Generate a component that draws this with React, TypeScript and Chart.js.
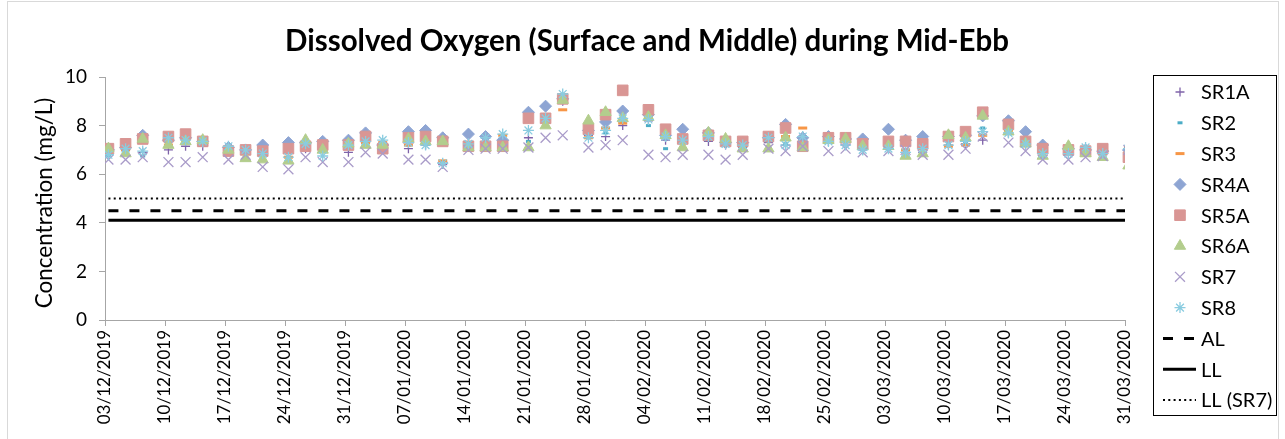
import React, { useEffect, useRef } from 'react';
import { Chart, registerables } from 'chart.js';
import { drawPoint } from 'chart.js/helpers';

Chart.register(...registerables);

const TITLE = 'Dissolved Oxygen (Surface and Middle) during Mid-Ebb';
const Y_TITLE = 'Concentration (mg/L)';

const tickLabels = [
  '03/12/2019', '10/12/2019', '17/12/2019', '24/12/2019', '31/12/2019',
  '07/01/2020', '14/01/2020', '21/01/2020', '28/01/2020', '04/02/2020',
  '11/02/2020', '18/02/2020', '25/02/2020', '03/03/2020', '10/03/2020',
  '17/03/2020', '24/03/2020', '31/03/2020',
];

const sampleDates = [
  '03/12/2019', '05/12/2019', '07/12/2019', '10/12/2019', '12/12/2019', '14/12/2019', '17/12/2019',
  '19/12/2019', '21/12/2019', '24/12/2019', '26/12/2019', '28/12/2019', '31/12/2019',
  '02/01/2020', '04/01/2020', '07/01/2020', '09/01/2020', '11/01/2020', '14/01/2020', '16/01/2020',
  '18/01/2020', '21/01/2020', '23/01/2020', '25/01/2020', '28/01/2020', '30/01/2020',
  '01/02/2020', '04/02/2020', '06/02/2020', '08/02/2020', '11/02/2020', '13/02/2020', '15/02/2020',
  '18/02/2020', '20/02/2020', '22/02/2020', '25/02/2020', '27/02/2020', '29/02/2020',
  '03/03/2020', '05/03/2020', '07/03/2020', '10/03/2020', '12/03/2020', '14/03/2020', '17/03/2020',
  '19/03/2020', '21/03/2020', '24/03/2020', '26/03/2020', '28/03/2020', '31/03/2020',
];

// fraction of the day at which sampling took place
const SAMPLE_TIME = 0.4;

const SR1A = [6.9, 7.0, 6.9, 7.0, 7.15, 7.15, 6.95, 6.85, 6.75, 6.7, 7.05, 7.05, 6.9,
  7.3, 7.1, 7.05, 7.2, 6.4, 7.1, 7.2, 7.2, 7.5, 8.3, 9.0, 7.6, 7.55,
  8.0, 8.2, 7.4, 7.35, 7.35, 7.2, 7.1, 7.3, 7.2, 7.4, 7.35, 7.2, 7.0,
  7.1, 6.9, 6.9, 7.2, 7.25, 7.4, 7.7, 7.2, 6.9, 6.85, 6.9, 6.8, 7.0];
const SR2 = [6.75, 6.9, 6.75, 7.2, 7.35, 7.3, 7.05, 6.9, 6.8, 6.65, 7.1, 7.0, 7.15,
  7.3, 7.15, 7.2, 7.25, 6.45, 7.3, 7.25, 7.3, 7.35, 8.3, 9.1, 7.6, 7.7,
  8.15, 8.0, 7.05, 7.3, 7.5, 7.25, 7.15, 7.35, 7.25, 7.5, 7.4, 7.3, 7.1,
  7.2, 6.9, 7.0, 7.25, 7.3, 7.9, 7.75, 7.3, 6.95, 6.9, 7.0, 6.85, 7.05];
const SR3 = [6.9, 7.0, 7.3, 7.2, 7.4, 7.3, 7.0, 6.9, 6.8, 6.7, 7.15, 6.95, 7.2,
  7.3, 7.3, 7.2, 7.3, 6.55, 7.2, 7.3, 7.6, 8.3, 8.35, 8.65, 7.5, 7.9,
  8.1, 8.3, 7.6, 7.4, 7.55, 7.3, 7.2, 7.4, 7.55, 7.9, 7.45, 7.35, 7.15,
  7.25, 7.0, 7.05, 7.15, 7.2, 7.6, 7.8, 7.4, 7.0, 6.85, 6.95, 6.85, 7.1];
const SR4A = [7.0, 7.1, 7.6, 7.4, 7.5, 7.35, 7.1, 7.0, 7.2, 7.3, 7.3, 7.35, 7.4,
  7.7, 7.2, 7.75, 7.8, 7.5, 7.65, 7.55, 7.4, 8.55, 8.8, 9.1, 7.8, 8.15,
  8.6, 8.45, 7.6, 7.85, 7.7, 7.3, 7.3, 7.5, 8.05, 7.5, 7.55, 7.45, 7.45,
  7.85, 7.4, 7.55, 7.55, 7.6, 8.4, 8.2, 7.75, 7.2, 7.05, 7.0, 6.95, 7.0];
const SR5A = [7.05, 7.25, 7.45, 7.55, 7.65, 7.35, 6.95, 7.0, 6.95, 7.05, 7.15, 7.2, 7.2,
  7.55, 7.05, 7.5, 7.55, 7.35, 7.15, 7.15, 7.15, 8.3, 8.3, 9.1, 7.85, 8.45,
  9.45, 8.65, 7.85, 7.45, 7.6, 7.35, 7.35, 7.55, 7.9, 7.15, 7.5, 7.5, 7.25,
  7.35, 7.35, 7.25, 7.55, 7.75, 8.55, 8.05, 7.35, 7.05, 7.0, 6.95, 7.05, 6.7];
const SR6A = [7.05, 6.85, 7.45, 7.2, 7.35, 7.4, 7.0, 6.65, 6.6, 6.55, 7.4, 7.0, 7.25,
  7.2, 7.2, 7.45, 7.35, 7.35, 7.1, 7.1, 7.1, 7.1, 8.0, 9.05, 8.2, 8.55,
  8.3, 8.35, 7.6, 7.1, 7.7, 7.45, 7.05, 7.05, 7.5, 7.1, 7.4, 7.45, 7.15,
  7.15, 6.75, 6.85, 7.6, 7.5, 8.4, 7.75, 7.25, 6.75, 7.15, 6.85, 6.7, 6.35];
const SR7 = [6.6, 6.6, 6.7, 6.5, 6.5, 6.7, 6.6, 6.8, 6.3, 6.2, 6.7, 6.5, 6.5,
  6.9, 6.85, 6.6, 6.6, 6.3, 7.0, 7.05, 7.05, 7.1, 7.5, 7.6, 7.1, 7.2,
  7.4, 6.8, 6.7, 6.8, 6.8, 6.6, 6.8, 7.05, 6.95, 7.15, 6.95, 7.05, 6.9,
  6.95, 7.0, 6.8, 6.8, 7.05, 7.55, 7.3, 6.95, 6.6, 6.6, 6.7, 6.75, 7.0];
const SR8 = [6.8, 7.05, 6.95, 7.5, 7.4, 7.35, 7.15, 7.0, 6.85, 6.7, 7.25, 6.75, 7.2,
  7.35, 7.4, 7.3, 7.2, 6.45, 7.25, 7.5, 7.65, 7.8, 8.3, 9.3, 7.5, 7.8,
  8.3, 8.25, 7.55, 7.4, 7.55, 7.25, 7.2, 7.5, 7.2, 7.55, 7.35, 7.2, 7.0,
  7.05, 6.9, 7.05, 7.2, 7.35, 7.75, 7.7, 7.25, 6.85, 6.85, 7.1, 6.85, 7.05];

const AL = 4.5;
const LL = 4.1;
const LL_SR7 = 5;

const FONT = 'Lato, "Open Sans", sans-serif';

const parseDay = (s: string) => {
  const [d, m, y] = s.split('/').map(Number);
  return Date.UTC(y, m - 1, d) / 86400000;
};
const DAY0 = parseDay(tickLabels[0]);
const dayIndex = (s: string) => parseDay(s) - DAY0;
const xs = sampleDates.map((d) => dayIndex(d) + SAMPLE_TIME);

type MarkerSpec = {
  label: string;
  values: number[];
  color: string;
  pointStyle: string;
  radius: number;
  borderWidth: number;
};

const markers: MarkerSpec[] = [
  { label: 'SR1A', values: SR1A, color: '#7F63A9', pointStyle: 'cross', radius: 4.5, borderWidth: 1.3 },
  { label: 'SR2', values: SR2, color: '#4BACC6', pointStyle: 'line', radius: 2.5, borderWidth: 3 },
  { label: 'SR3', values: SR3, color: '#F79646', pointStyle: 'line', radius: 4.5, borderWidth: 3 },
  { label: 'SR4A', values: SR4A, color: '#8EA5D3', pointStyle: 'rectRot', radius: 6, borderWidth: 1 },
  { label: 'SR5A', values: SR5A, color: '#D99694', pointStyle: 'rect', radius: 7.5, borderWidth: 1 },
  { label: 'SR6A', values: SR6A, color: '#B3CD8D', pointStyle: 'triangle', radius: 6.5, borderWidth: 1 },
  { label: 'SR7', values: SR7, color: '#A99BC9', pointStyle: 'crossRot', radius: 7, borderWidth: 1.3 },
  { label: 'SR8', values: SR8, color: '#8ACCE0', pointStyle: 'star', radius: 5.5, borderWidth: 1.3 },
];

type LimitSpec = { label: string; value: number; dash: number[]; width: number };
const limits: LimitSpec[] = [
  { label: 'AL', value: AL, dash: [10, 11], width: 3 },
  { label: 'LL', value: LL, dash: [], width: 3 },
  { label: 'LL (SR7)', value: LL_SR7, dash: [2, 3.3], width: 2 },
];

const decorPlugin = {
  id: 'decor',
  afterDraw(chart: any) {
    const ctx: CanvasRenderingContext2D = chart.ctx;
    ctx.save();
    // outer border
    ctx.strokeStyle = '#D9D9D9';
    ctx.lineWidth = 1;
    ctx.strokeRect(7.5, 1.5, 1271, 460);

    // title
    ctx.fillStyle = '#000';
    ctx.font = `bold 29.5px ${FONT}`;
    ctx.textAlign = 'center';
    ctx.textBaseline = 'middle';
    ctx.fillText(TITLE, 647, 41);

    // y axis title
    ctx.save();
    ctx.translate(45, 203);
    ctx.rotate(-Math.PI / 2);
    ctx.font = `22.5px ${FONT}`;
    ctx.fillText(Y_TITLE, 0, 0);
    ctx.restore();

    // legend
    const bx = 1153.5, by = 75.5, bw = 123, bh = 340;
    ctx.strokeStyle = '#000';
    ctx.lineWidth = 1;
    ctx.strokeRect(bx, by, bw, bh);
    ctx.font = `20px ${FONT}`;
    ctx.textAlign = 'left';
    const rowY = (i: number) => 92 + i * 30.8;
    markers.forEach((m, i) => {
      const y = rowY(i);
      ctx.fillStyle = m.color;
      ctx.strokeStyle = m.color;
      ctx.lineWidth = m.borderWidth;
      ctx.setLineDash([]);
      drawPoint(ctx, { pointStyle: m.pointStyle as any, radius: m.radius, rotation: 0, borderWidth: m.borderWidth }, 1180, y);
      ctx.fillStyle = '#000';
      ctx.fillText(m.label, 1201, y + 1);
    });
    limits.forEach((l, j) => {
      const y = rowY(markers.length + j);
      ctx.strokeStyle = '#000';
      ctx.lineWidth = l.width;
      ctx.setLineDash(l.dash);
      ctx.beginPath();
      ctx.moveTo(1163, y);
      ctx.lineTo(1196, y);
      ctx.stroke();
      ctx.setLineDash([]);
      ctx.fillStyle = '#000';
      ctx.fillText(l.label, 1201, y + 1);
    });
    ctx.restore();
  },
};

export default function App() {
  const canvasRef = useRef<HTMLCanvasElement | null>(null);

  useEffect(() => {
    if (!canvasRef.current) return;
    const firstX = xs[0];
    const lastX = xs[xs.length - 1];

    const scatterSets = markers.map((m, i) => ({
      type: 'scatter' as const,
      label: m.label,
      data: m.values.map((v, k) => ({ x: xs[k], y: v })),
      backgroundColor: m.color,
      borderColor: m.color,
      pointStyle: m.pointStyle,
      pointRadius: m.radius,
      pointBorderWidth: m.borderWidth,
      pointHoverRadius: m.radius,
      showLine: false,
      order: 20 - i,
    }));

    const limitSets = limits.map((l, j) => ({
      type: 'line' as const,
      label: l.label,
      data: [
        { x: firstX, y: l.value },
        { x: lastX, y: l.value },
      ],
      borderColor: '#000',
      backgroundColor: '#000',
      borderWidth: l.width,
      borderDash: l.dash,
      pointRadius: 0,
      fill: false,
      order: 30 + j,
    }));

    const chart = new Chart(canvasRef.current, {
      type: 'scatter',
      data: { datasets: [...scatterSets, ...limitSets] as any },
      options: {
        animation: false,
        responsive: false,
        devicePixelRatio: 1,
        layout: { padding: { left: 0, right: 160, top: 77, bottom: 0 } },
        plugins: {
          legend: { display: false },
          title: { display: false },
          tooltip: { enabled: false },
        },
        scales: {
          x: {
            type: 'linear',
            min: 0,
            max: 119,
            afterFit: (s: any) => {
              s.height = 119;
            },
            ticks: {
              stepSize: 7,
              autoSkip: false,
              minRotation: 90,
              maxRotation: 90,
              padding: 4,
              color: '#000',
              font: { family: FONT, size: 17 },
              callback: (v: any) => tickLabels[Math.round(Number(v) / 7)] ?? '',
            },
            grid: { display: true, drawOnChartArea: false, drawTicks: true, tickLength: 6, color: '#A6A6A6' },
            border: { display: true, color: '#A6A6A6', width: 1 },
          },
          y: {
            min: 0,
            max: 10,
            afterFit: (s: any) => {
              s.width = 105;
            },
            ticks: {
              stepSize: 2,
              padding: 12,
              color: '#000',
              font: { family: FONT, size: 19 },
            },
            grid: { display: true, drawOnChartArea: false, drawTicks: true, tickLength: 6, color: '#A6A6A6' },
            border: { display: true, color: '#A6A6A6', width: 1 },
          },
        },
      },
      plugins: [decorPlugin],
    });

    return () => chart.destroy();
  }, []);

  return (
    <div style={{ position: 'fixed', left: 0, top: 0, width: 1285, height: 439, background: '#fff' }}>
      <canvas ref={canvasRef} width={1285} height={439} style={{ width: 1285, height: 439, display: 'block' }} />
    </div>
  );
}
